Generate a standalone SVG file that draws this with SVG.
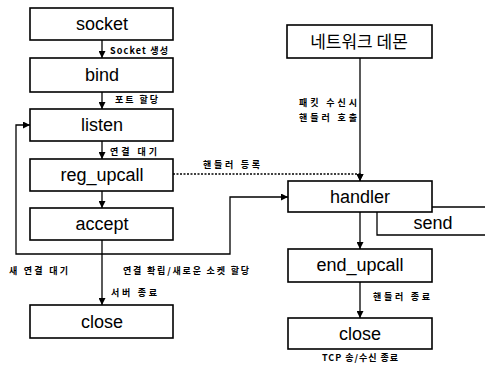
<svg xmlns="http://www.w3.org/2000/svg" width="485" height="368" viewBox="0 0 485 368">
  <defs>
    <marker id="arrow" viewBox="0 0 8 8" refX="8" refY="4" markerWidth="7" markerHeight="7" markerUnits="userSpaceOnUse" orient="auto">
      <path d="M0,0 L8,4 L0,8 z" fill="#000"/>
    </marker>
    <style>
      .box { fill: #fff; stroke: #000; stroke-width: 1.6; }
      .name { font-family: "Liberation Sans", Arial, sans-serif; font-size: 18px; text-anchor: middle; fill: #000; }
      .kname { font-family: "Noto Sans CJK KR", "Noto Sans", sans-serif; font-size: 17px; text-anchor: middle; fill: #000; }
      .lbl { font-family: "Noto Sans CJK KR", "Liberation Sans", sans-serif; font-size: 9px; font-weight: bold; fill: #000; }
      .line { fill: none; stroke: #000; stroke-width: 1.3; }
      .dash { fill: none; stroke: #000; stroke-width: 1.3; stroke-dasharray: 2 1.5; }
    </style>
  </defs>

  <rect width="485" height="368" fill="#fff"/>

  <!-- connectors -->
  <g id="connectors">
    <line class="line" x1="102" y1="40" x2="102" y2="58" marker-end="url(#arrow)"/>
    <line class="line" x1="102" y1="92" x2="102" y2="109" marker-end="url(#arrow)"/>
    <line class="line" x1="102" y1="141" x2="102" y2="159" marker-end="url(#arrow)"/>
    <line class="line" x1="102" y1="191" x2="102" y2="208" marker-end="url(#arrow)"/>
    <line class="line" x1="102" y1="240" x2="102" y2="305" marker-end="url(#arrow)"/>
    <!-- new connection loop back to listen -->
    <polyline class="line" points="102,254 16,254 16,125 30,125" marker-end="url(#arrow)"/>
    <!-- established connection to handler -->
    <polyline class="line" points="102,254 230,254 230,197 288,197" marker-end="url(#arrow)"/>
    <!-- handler registration -->
    <polyline class="dash" points="173,174 360,174 360,181" marker-end="url(#arrow)"/>
    <!-- daemon to handler -->
    <line class="line" x1="360" y1="58" x2="360" y2="181" marker-end="url(#arrow)"/>
    <line class="line" x1="360" y1="212" x2="360" y2="249" marker-end="url(#arrow)"/>
    <line class="line" x1="360" y1="282" x2="360" y2="318" marker-end="url(#arrow)"/>
  </g>

  <!-- left column -->
  <g id="socket">
    <rect class="box" x="30" y="8" width="143" height="32"/>
    <text class="name" x="102" y="30">socket</text>
  </g>
  <g id="bind">
    <rect class="box" x="30" y="58" width="143" height="34"/>
    <text class="name" x="102" y="81">bind</text>
  </g>
  <g id="listen">
    <rect class="box" x="30" y="109" width="143" height="32"/>
    <text class="name" x="102" y="131">listen</text>
  </g>
  <g id="reg_upcall">
    <rect class="box" x="30" y="159" width="143" height="32"/>
    <text class="name" x="102" y="181">reg_upcall</text>
  </g>
  <g id="accept">
    <rect class="box" x="30" y="208" width="143" height="32"/>
    <text class="name" x="102" y="230">accept</text>
  </g>
  <g id="close_server">
    <rect class="box" x="30" y="305" width="143" height="33"/>
    <text class="name" x="102" y="328">close</text>
  </g>

  <!-- right column -->
  <g id="daemon">
    <rect class="box" x="287" y="25" width="145" height="33"/>
    <text class="kname" x="359" y="48">네트워크 데몬</text>
  </g>
  <g id="send">
    <polyline class="line" points="432,207 485,207"/>
    <polyline class="line" points="377,212 377,235 485,235"/>
    <text class="name" x="433" y="229">send</text>
  </g>
  <g id="handler">
    <rect class="box" x="288" y="181" width="144" height="31"/>
    <text class="name" x="360" y="203">handler</text>
  </g>
  <g id="end_upcall">
    <rect class="box" x="288" y="249" width="144" height="33"/>
    <text class="name" x="360" y="271">end_upcall</text>
  </g>
  <g id="close_client">
    <rect class="box" x="288" y="318" width="144" height="31"/>
    <text class="name" x="360" y="340">close</text>
  </g>

  <!-- labels -->
  <g id="labels">
    <text class="lbl" x="110" y="54" textLength="58" lengthAdjust="spacing">Socket 생성</text>
    <text class="lbl" x="115" y="103" textLength="43" lengthAdjust="spacing">포트 할당</text>
    <text class="lbl" x="110" y="155" textLength="47" lengthAdjust="spacing">연결 대기</text>
    <text class="lbl" x="203" y="168" textLength="57" lengthAdjust="spacing">핸들러 등록</text>
    <text class="lbl" x="9" y="274" textLength="59" lengthAdjust="spacing">새 연결 대기</text>
    <text class="lbl" x="123" y="274" textLength="126" lengthAdjust="spacing">연결 확립/새로운 소켓 할당</text>
    <text class="lbl" x="111" y="296" textLength="46" lengthAdjust="spacing">서버 종료</text>
    <text class="lbl" x="299" y="106" textLength="58" lengthAdjust="spacing">패킷 수신시</text>
    <text class="lbl" x="299" y="121" textLength="58" lengthAdjust="spacing">핸들러 호출</text>
    <text class="lbl" x="373" y="300" textLength="57" lengthAdjust="spacing">핸들러 종료</text>
    <text class="lbl" x="322" y="361" textLength="76" lengthAdjust="spacing">TCP 송/수신 종료</text>
  </g>
</svg>
